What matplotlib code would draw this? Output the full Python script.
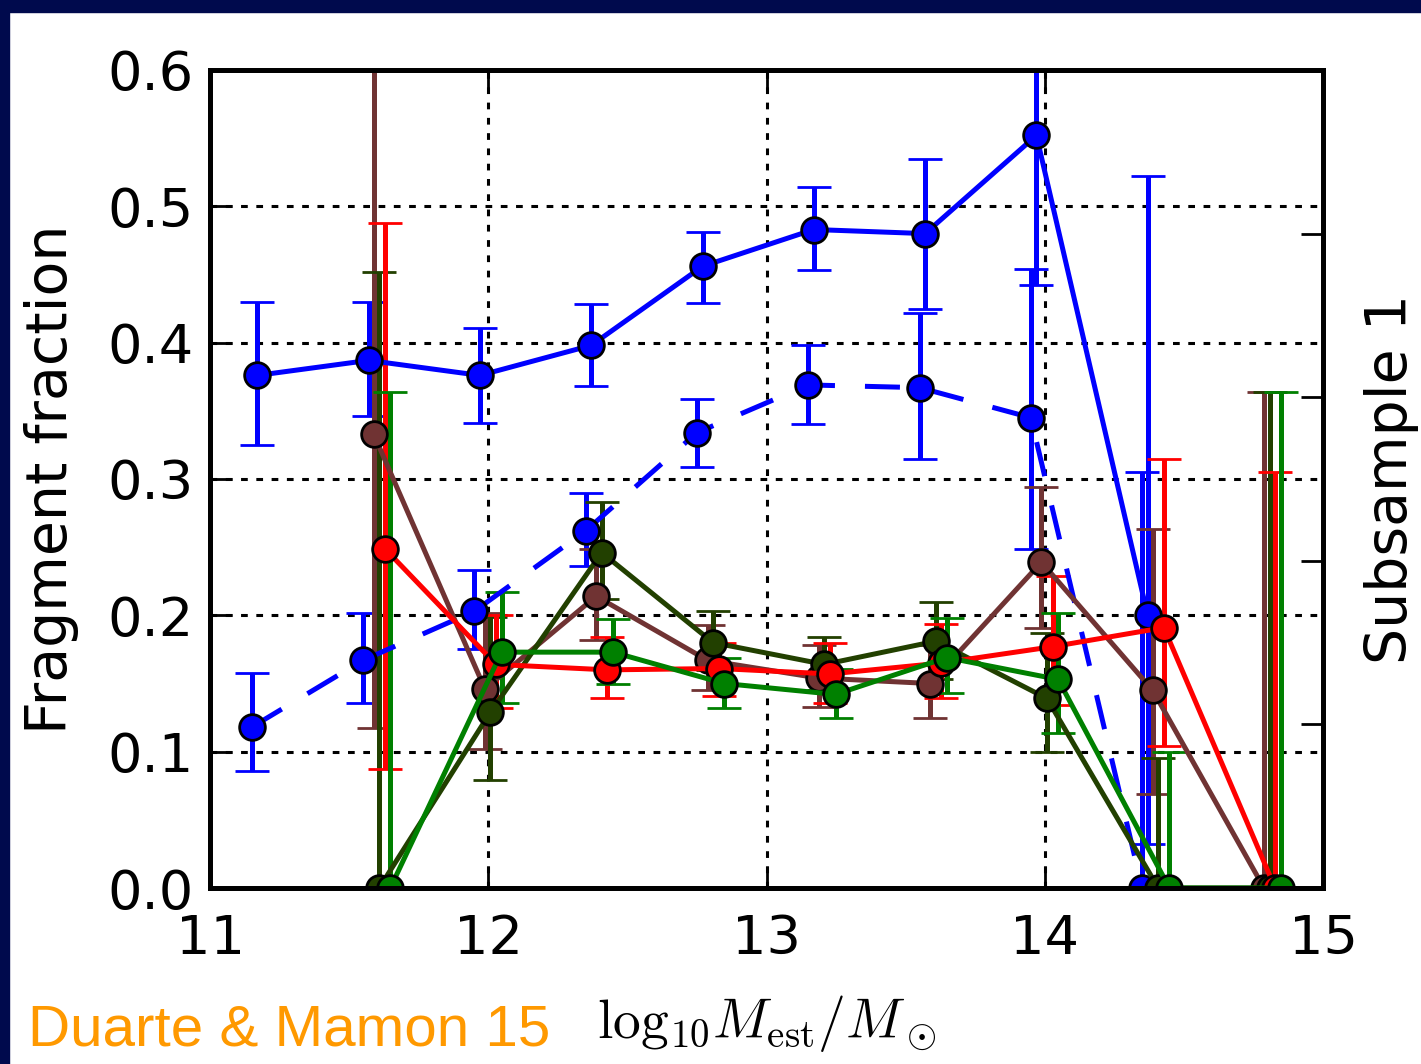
import numpy as np
import matplotlib
matplotlib.use('Agg')
import matplotlib.pyplot as plt
from matplotlib.patches import Rectangle

plt.rcParams['mathtext.fontset'] = 'cm'

# bin centres in log10 mass
centres = np.array([11.2, 11.6, 12.0, 12.4, 12.8, 13.2, 13.6, 14.0, 14.4, 14.8])

# blue, solid (bins 11.2 .. 14.4)
blue_solid = [0.376, 0.387, 0.376, 0.398, 0.456, 0.483, 0.480, 0.552, 0.200]
blue_solid_hi = [0.430, 0.430, 0.411, 0.428, 0.481, 0.514, 0.535, 0.660, 0.522]
blue_solid_lo = [0.325, 0.346, 0.341, 0.368, 0.429, 0.453, 0.425, 0.442, 0.032]

# blue, dashed (bins 11.2 .. 14.4)
blue_dash = [0.118, 0.167, 0.203, 0.262, 0.334, 0.369, 0.367, 0.345, 0.0]
blue_dash_hi = [0.158, 0.202, 0.233, 0.290, 0.359, 0.398, 0.422, 0.454, 0.305]
blue_dash_lo = [0.086, 0.136, 0.175, 0.236, 0.309, 0.340, 0.315, 0.249, 0.0]

# brown (bins 11.6 .. 14.8)
brown = [0.333, 0.146, 0.214, 0.167, 0.154, 0.150, 0.239, 0.145, 0.0]
brown_hi = [0.700, 0.202, 0.249, 0.193, 0.178, 0.178, 0.294, 0.263, 0.364]
brown_lo = [0.117, 0.102, 0.182, 0.145, 0.133, 0.125, 0.191, 0.069, 0.0]

# dark green (bins 11.6 .. 14.8)
dkgreen = [0.0, 0.129, 0.246, 0.180, 0.164, 0.181, 0.139, 0.0, 0.0]
dkgreen_hi = [0.452, 0.199, 0.283, 0.203, 0.184, 0.210, 0.187, 0.095, 0.364]
dkgreen_lo = [0.0, 0.079, 0.212, 0.160, 0.145, 0.153, 0.100, 0.0, 0.0]

# red (bins 11.6 .. 14.8)
red = [0.249, 0.164, 0.160, 0.161, 0.157, 0.165, 0.177, 0.191, 0.0]
red_hi = [0.488, 0.200, 0.184, 0.180, 0.180, 0.194, 0.229, 0.315, 0.305]
red_lo = [0.087, 0.132, 0.139, 0.141, 0.136, 0.139, 0.134, 0.104, 0.0]

# green (bins 11.6 .. 14.8)
green = [0.0, 0.173, 0.173, 0.150, 0.142, 0.169, 0.153, 0.0, 0.0]
green_hi = [0.364, 0.217, 0.197, 0.169, 0.161, 0.198, 0.202, 0.100, 0.364]
green_lo = [0.0, 0.136, 0.150, 0.132, 0.125, 0.143, 0.114, 0.0, 0.0]

BROWN = '#703333'
DKGREEN = '#224000'


def draw(ax, x, y, hi, lo, color, ls='-'):
    y = np.array(y)
    err = [y - np.array(lo), np.array(hi) - y]
    ax.errorbar(x, y, yerr=err, fmt='o', ls=ls, color=color, mfc=color,
                mec='k', mew=2, ms=18.5, lw=3.6, elinewidth=3.6,
                capsize=12, capthick=2.2)


fig = plt.figure(figsize=(14.21, 10.64), dpi=100)
fig.patch.set_facecolor('white')
# slide background showing round the edges
fig.patches.append(Rectangle((0, 1 - 12 / 1064.), 1, 12 / 1064., transform=fig.transFigure,
                             color='#000a4d', zorder=0))
fig.patches.append(Rectangle((0, 0), 8.5 / 1421., 1, transform=fig.transFigure,
                             color='#000a4d', zorder=0))

ax = fig.add_axes([210 / 1421., 176 / 1064., 1113 / 1421., 818 / 1064.])

draw(ax, centres[:9] - 0.05, blue_dash, blue_dash_hi, blue_dash_lo, 'b', ls=(0, (7, 6)))
draw(ax, centres[:9] - 0.03, blue_solid, blue_solid_hi, blue_solid_lo, 'b')
draw(ax, centres[1:] - 0.012, brown, brown_hi, brown_lo, BROWN)
draw(ax, centres[1:] + 0.008, dkgreen, dkgreen_hi, dkgreen_lo, DKGREEN)
draw(ax, centres[1:] + 0.028, red, red_hi, red_lo, 'r')
draw(ax, centres[1:] + 0.048, green, green_hi, green_lo, 'g')

ax.set_xlim(11, 15)
ax.set_ylim(0, 0.6)
ax.set_xticks([11, 12, 13, 14, 15])
ax.set_yticks(np.arange(0, 0.61, 0.1))
ax.set_yticklabels(['%.1f' % v for v in np.arange(0, 0.61, 0.1)])
ax.grid(True, color='k', linestyle=(0, (2.2, 2.8)), linewidth=2.2)
ax.tick_params(direction='in', length=16, width=2, labelsize=39,
               top=True, right=False)
ax.tick_params(axis='x', pad=18)
ax.tick_params(axis='y', pad=12)
for s in ax.spines.values():
    s.set_linewidth(3.5)
ax.set_ylabel('Fragment fraction', fontsize=41, labelpad=20)

ax2 = ax.twinx()
ax2.set_ylim(0, 1)
ax2.set_yticks(np.arange(0, 1.01, 0.2))
ax2.set_yticklabels([])
ax2.tick_params(direction='in', length=16, width=2)
ax2.set_ylabel('Subsample 1', fontsize=41, labelpad=26)
for s in ax2.spines.values():
    s.set_linewidth(3.5)

fig.text(28 / 1421., 0.017, 'Duarte & Mamon 15', color='#ff9900', fontsize=42,
         family='Liberation Sans', va='baseline', ha='left')
fig.text(597 / 1421., 0.024, r'$\mathrm{log}_{10}M_{\mathrm{est}}/M_\odot$', fontsize=40,
         va='baseline', ha='left')

fig.savefig('out.png', dpi=100)
